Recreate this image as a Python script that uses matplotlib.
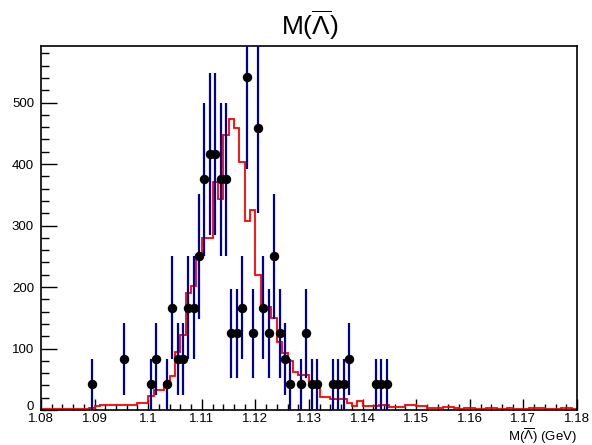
import numpy as np
import matplotlib
matplotlib.use("Agg")
import matplotlib.pyplot as plt
import matplotlib.transforms as mtransforms
from matplotlib.ticker import MultipleLocator, FixedLocator, FixedFormatter

plt.rcParams['font.family'] = ['Liberation Sans', 'DejaVu Sans']
plt.rcParams['mathtext.fontset'] = 'custom'
plt.rcParams['mathtext.rm'] = 'Liberation Sans'
plt.rcParams['mathtext.it'] = 'Liberation Sans:italic'

# ---- data ----
x_min, x_max = 1.08, 1.18
n_bins = 100
event_weight = 41.667

# data points (bin index, event counts)
data_bins = [9, 15, 20, 21, 23, 24, 25, 26, 27, 28, 29, 30, 31, 32, 33, 34, 35, 36,
             37, 38, 39, 40, 41, 42, 43, 44, 45, 46, 48, 49, 50, 51, 54, 55, 56, 57,
             62, 63, 64]
data_counts = [1, 2, 1, 2, 1, 4, 2, 2, 4, 4, 6, 9, 10, 10, 9, 9, 3, 3,
               4, 13, 3, 11, 4, 3, 6, 3, 2, 1, 1, 3, 1, 1, 1, 1, 1, 2,
               1, 1, 1]

# MC histogram (red)
mc_values = [2, 2, 2, 2, 2, 2, 2, 2, 2, 3,
             6, 8, 8, 8, 8, 8, 8, 8, 12, 12,
             22, 33, 33, 44, 55, 95, 122, 191, 201, 247,
             280, 280, 371, 343, 447, 473, 459, 404, 308, 326,
             220, 168, 168, 150, 110, 93, 80, 62, 57, 57,
             44, 40, 21, 21, 18, 18, 18, 11, 7, 14,
             6, 6, 6, 8, 8, 5, 5, 5, 8, 8,
             6, 6, 4, 4, 3, 5, 5, 3, 2, 3,
             3, 2, 2, 3, 3, 2, 2, 3, 2, 2,
             2, 3, 3, 3, 2, 2, 2, 3, 3, 2]

x_tick_vals = [1.08, 1.09, 1.10, 1.11, 1.12, 1.13, 1.14, 1.15, 1.16, 1.17, 1.18]
x_tick_labels = ['1.08', '1.09', '1.1', '1.11', '1.12', '1.13', '1.14', '1.15', '1.16', '1.17', '1.18']
y_tick_vals = [0, 100, 200, 300, 400, 500]
y_tick_labels = ['0', '100', '200', '300', '400', '500']

# ---- figure ----
W, H = 592, 445
fig = plt.figure(figsize=(W / 100, H / 100), dpi=100)
ax = fig.add_axes([41 / W, (H - 410) / H, 536 / W, 364 / H])

edges = np.linspace(x_min, x_max, n_bins + 1)
centers = 0.5 * (edges[:-1] + edges[1:])

ax.stairs(mc_values, edges, color='#ff0000', linewidth=1.3, zorder=2)

px = centers[np.array(data_bins)]
py = np.array(data_counts) * event_weight
perr = np.sqrt(np.array(data_counts)) * event_weight
ax.errorbar(px, py, yerr=perr, fmt='o', color='black', ecolor='#000099',
            elinewidth=1.6, markersize=5.8, capsize=0, zorder=3)

ax.set_xlim(x_min, x_max)
ax.set_ylim(0, 592)

ax.xaxis.set_major_locator(FixedLocator(x_tick_vals))
ax.xaxis.set_major_formatter(FixedFormatter(x_tick_labels))
ax.xaxis.set_minor_locator(MultipleLocator(0.002))
ax.yaxis.set_major_locator(FixedLocator(y_tick_vals))
ax.yaxis.set_major_formatter(FixedFormatter(y_tick_labels))
ax.yaxis.set_minor_locator(MultipleLocator(20))

ax.tick_params(axis='x', which='major', direction='in', length=8, width=1.0,
               labelsize=9.5, pad=2, top=False)
ax.tick_params(axis='x', which='minor', direction='in', length=4, width=1.0, top=False)
ax.tick_params(axis='y', which='major', direction='in', length=11.5, width=1.0,
               labelsize=9.5, pad=5, right=False)
ax.tick_params(axis='y', which='minor', direction='in', length=5.5, width=1.0, right=False)

for s in ax.spines.values():
    s.set_linewidth(1.2)

# nudge the y "0" label up slightly so it sits above the "1.08" label
fig.canvas.draw()
zero_lbl = ax.yaxis.get_majorticklabels()[0]
zero_lbl.set_transform(zero_lbl.get_transform() +
                       mtransforms.ScaledTranslation(0, 5 / 100, fig.dpi_scale_trans))

fig.text(310 / W, (H - 25) / H, r'M($\overline{\Lambda}$)', ha='center', va='center', fontsize=19)
fig.text(577 / W, (H - 436) / H, r'M($\overline{\Lambda}$) (GeV)', ha='right', va='center', fontsize=9.5)

fig.savefig('out.png', dpi=100)
